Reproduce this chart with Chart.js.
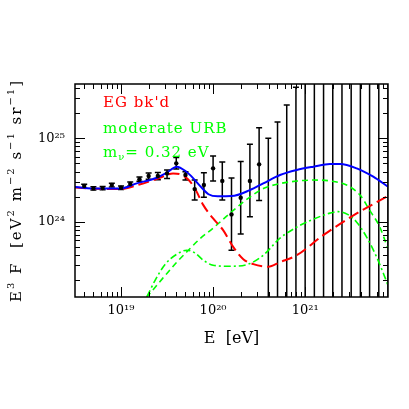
<!DOCTYPE html>
<html><head><meta charset="utf-8">
<script src="https://cdn.jsdelivr.net/npm/chart.js@4"></script>
<style>html,body{margin:0;padding:0;background:#fff}</style>
</head><body>
<canvas id="c" width="409" height="409"></canvas>
<script>
// ---- axis / tick labels ----
const xTickExps = [19, 20, 21];
const xTickLabels = ['10¹⁹', '10²⁰', '10²¹'];
const yTickExps = [24, 25];
const yTickLabels = ['10²⁴', '10²⁵'];
const xRangeLog = [18.5, 21.9];
const yRangeLog = [23.1, 25.65];
const xTitle = 'E  [eV]';
const yTitleParts = [['E', 0], ['3', 1], [' F  [eV', 0], ['2', 1], [' m', 0], ['−2', 1], [' s', 0], ['−1', 1], [' sr', 0], ['−1', 1], [']', 0]];

// ---- measured data (log10 E, log10 E^3 F, error bar ends) ----
const dataLogE  = [18.6, 18.7, 18.8, 18.9, 19.0, 19.1, 19.2, 19.3, 19.4, 19.5, 19.6, 19.7, 19.8, 19.9, 20.0, 20.1, 20.2, 20.3, 20.4, 20.5, 20.6, 20.7, 20.8, 20.9, 21.0, 21.1, 21.2, 21.3, 21.4, 21.5, 21.6, 21.7, 21.8, 21.9];
const dataLogF  = [24.428, 24.400, 24.404, 24.440, 24.408, 24.452, 24.510, 24.548, 24.548, 24.580, 24.700, 24.560, 24.392, 24.440, 24.640, 24.490, 24.089, 24.288, 24.488, 24.688, null, null, null, null, null, null, null, null, null, null, null, null, null, null];
const dataLogHi = [24.450, 24.420, 24.424, 24.462, 24.428, 24.476, 24.536, 24.585, 24.590, 24.620, 24.770, 24.600, 24.500, 24.588, 24.788, 24.716, 24.524, 24.722, 24.928, 25.127, 25.000, 25.195, 25.400, 25.610, 26.0, 26.0, 26.0, 26.0, 26.0, 26.0, 26.0, 26.0, 26.0, 26.0];
const dataLogLo = [24.405, 24.380, 24.384, 24.418, 24.388, 24.428, 24.485, 24.510, 24.505, 24.520, 24.632, 24.500, 24.260, 24.293, 24.488, 24.260, 23.660, 23.853, 24.060, 24.254, 22.0, 22.0, 22.0, 22.0, 22.0, 22.0, 22.0, 22.0, 22.0, 22.0, 22.0, 22.0, 22.0, 22.0];

// ---- model curves ----
const totalLogE = [18.5, 18.75, 19.0, 19.17, 19.39, 19.5, 19.605, 19.71, 19.76, 19.86, 19.95, 20.05, 20.2, 20.4, 20.545, 20.727, 20.908, 21.09, 21.27, 21.38, 21.56, 21.74, 21.9];
const totalLogF = [24.416, 24.398, 24.400, 24.460, 24.528, 24.590, 24.660, 24.600, 24.550, 24.428, 24.330, 24.305, 24.308, 24.380, 24.460, 24.560, 24.620, 24.660, 24.692, 24.692, 24.640, 24.540, 24.420];

const egLogE = [18.5, 18.75, 19.0, 19.2, 19.4, 19.565, 19.65, 19.727, 19.8, 19.894, 20.0, 20.109, 20.22, 20.328, 20.437, 20.6, 20.727, 20.908, 21.197, 21.56, 21.9];
const egLogF = [24.410, 24.395, 24.392, 24.446, 24.518, 24.578, 24.566, 24.510, 24.404, 24.200, 24.040, 23.900, 23.697, 23.553, 23.493, 23.463, 23.517, 23.600, 23.840, 24.100, 24.310];

const zbLogE = [19.2, 19.279, 19.45, 19.6, 19.75, 19.86, 20.0, 20.184, 20.4, 20.545, 20.727, 20.908, 21.09, 21.27, 21.45, 21.596, 21.70, 21.81, 21.886, 21.9];
const zbLogF = [23.01, 23.10, 23.32, 23.51, 23.68, 23.80, 23.924, 24.104, 24.296, 24.398, 24.458, 24.488, 24.500, 24.490, 24.440, 24.320, 24.140, 23.940, 23.720, 23.680];

const zb2LogE = [19.2, 19.279, 19.37, 19.478, 19.605, 19.713, 19.80, 19.894, 20.0, 20.184, 20.4, 20.545, 20.727, 20.908, 21.09, 21.27, 21.357, 21.466, 21.56, 21.668, 21.777, 21.849, 21.9];
const zb2LogF = [22.95, 23.10, 23.30, 23.49, 23.612, 23.660, 23.630, 23.540, 23.480, 23.468, 23.500, 23.600, 23.804, 23.936, 24.032, 24.104, 24.122, 24.086, 23.996, 23.817, 23.577, 23.385, 23.240];

const pts = (le, lf) => le.map((e, i) => ({x: Math.pow(10, e), y: lf[i] === null ? null : Math.pow(10, lf[i])}));

const SERIF = '"DejaVu Serif", "Liberation Serif", serif';

const framePlugin = {
  id: 'frame',
  beforeDatasetsDraw(chart) {
    const {ctx, chartArea: a, scales: {x, y}} = chart;
    ctx.save();
    ctx.beginPath(); ctx.rect(a.left, a.top, a.right - a.left, a.bottom - a.top); ctx.clip();
    ctx.strokeStyle = '#000'; ctx.lineWidth = 1.5;
    dataLogE.forEach((e, i) => {
      const px = x.getPixelForValue(Math.pow(10, e));
      const hi = y.getPixelForValue(Math.pow(10, dataLogHi[i]));
      const lo = y.getPixelForValue(Math.pow(10, dataLogLo[i]));
      ctx.beginPath();
      ctx.moveTo(px, hi); ctx.lineTo(px, lo);
      ctx.moveTo(px - 3, hi); ctx.lineTo(px + 3, hi);
      ctx.moveTo(px - 3, lo); ctx.lineTo(px + 3, lo);
      ctx.stroke();
    });
    ctx.restore();
  },
  afterDraw(chart) {
    const {ctx, chartArea: a, scales: {x, y}} = chart;
    ctx.save();
    ctx.strokeStyle = '#000';
    ctx.lineWidth = 1;
    for (let d = 18; d <= 21; d++) {
      for (let m = 1; m <= 9; m++) {
        const v = m * Math.pow(10, d);
        if (v < Math.pow(10, xRangeLog[0]) || v > Math.pow(10, xRangeLog[1])) continue;
        const px = Math.round(x.getPixelForValue(v)) + 0.5;
        const len = m === 1 ? 10 : 5;
        ctx.beginPath();
        ctx.moveTo(px, a.bottom); ctx.lineTo(px, a.bottom - len);
        ctx.moveTo(px, a.top); ctx.lineTo(px, a.top + len);
        ctx.stroke();
      }
    }
    for (let d = 23; d <= 25; d++) {
      for (let m = 1; m <= 9; m++) {
        const v = m * Math.pow(10, d);
        if (v < Math.pow(10, yRangeLog[0]) || v > Math.pow(10, yRangeLog[1])) continue;
        const py = Math.round(y.getPixelForValue(v)) + 0.5;
        const len = m === 1 ? 10 : 5;
        ctx.beginPath();
        ctx.moveTo(a.left, py); ctx.lineTo(a.left + len, py);
        ctx.moveTo(a.right, py); ctx.lineTo(a.right - len, py);
        ctx.stroke();
      }
    }
    ctx.lineWidth = 1.5;
    ctx.strokeRect(a.left, a.top, a.right - a.left, a.bottom - a.top);

    // y-axis title (rotated, with superscripts)
    ctx.save();
    ctx.letterSpacing = '2px';
    ctx.fillStyle = '#000';
    ctx.textBaseline = 'alphabetic';
    ctx.textAlign = 'left';
    const fontFor = s => (s ? '10px ' : '15px ') + SERIF;
    let W = 0;
    yTitleParts.forEach(([t, s]) => { ctx.font = fontFor(s); W += ctx.measureText(t).width; });
    ctx.translate(21, (a.top + a.bottom) / 2);
    ctx.rotate(-Math.PI / 2);
    let cx = -W / 2;
    yTitleParts.forEach(([t, s]) => {
      ctx.font = fontFor(s);
      ctx.fillText(t, cx, s ? -7 : 0);
      cx += ctx.measureText(t).width;
    });
    ctx.restore();

    // x-axis title
    ctx.save();
    ctx.fillStyle = '#000';
    ctx.font = '16px ' + SERIF;
    ctx.textAlign = 'center';
    ctx.textBaseline = 'middle';
    ctx.fillText(xTitle, (a.left + a.right) / 2, 339);
    ctx.restore();

    // annotations
    ctx.letterSpacing = '1px';
    ctx.textBaseline = 'alphabetic';
    ctx.textAlign = 'left';
    ctx.font = '15px ' + SERIF;
    ctx.fillStyle = '#ff0000';
    ctx.fillText("EG bk'd", 103, 107);
    ctx.fillStyle = '#00ff00';
    ctx.fillText('moderate URB', 103, 133);
    let tx = 103;
    ctx.fillText('m', tx, 157); tx += ctx.measureText('m').width;
    ctx.font = '10px ' + SERIF;
    ctx.fillText('ν', tx, 160); tx += ctx.measureText('ν').width;
    ctx.font = '15px ' + SERIF;
    ctx.fillText('= 0.32 eV', tx, 157);
    ctx.restore();
  }
};

new Chart(document.getElementById('c'), {
  type: 'line',
  data: {
    datasets: [
      {label: 'data', type: 'scatter', data: pts(dataLogE, dataLogF).filter(p => p.y !== null),
       pointRadius: 2.2, pointBackgroundColor: '#000', pointBorderWidth: 0, showLine: false, clip: 0},
      {label: 'total', data: pts(totalLogE, totalLogF), borderColor: '#0000ff', borderWidth: 2,
       pointRadius: 0, cubicInterpolationMode: 'monotone', fill: false, clip: 0},
      {label: "EG bk'd", data: pts(egLogE, egLogF), borderColor: '#ff0000', borderWidth: 2, borderDash: [11, 5],
       pointRadius: 0, cubicInterpolationMode: 'monotone', fill: false, clip: 0},
      {label: 'Z-burst', data: pts(zbLogE, zbLogF), borderColor: '#00ff00', borderWidth: 1.6, borderDash: [6, 4],
       pointRadius: 0, cubicInterpolationMode: 'monotone', fill: false, clip: 0},
      {label: 'Z-burst 2', data: pts(zb2LogE, zb2LogF), borderColor: '#00ff00', borderWidth: 1.6, borderDash: [7, 3, 2, 3],
       pointRadius: 0, cubicInterpolationMode: 'monotone', fill: false, clip: 0}
    ]
  },
  options: {
    responsive: false, animation: false, devicePixelRatio: 1,
    layout: {padding: {left: 0, right: 21, top: 84, bottom: 0}},
    plugins: {legend: {display: false}, tooltip: {enabled: false}},
    scales: {
      x: {
        type: 'logarithmic', bounds: 'data',
        min: Math.pow(10, xRangeLog[0]), max: Math.pow(10, xRangeLog[1]),
        grid: {display: false, drawTicks: false}, border: {display: false},
        afterBuildTicks: s => { s.ticks = xTickExps.map(e => ({value: Math.pow(10, e)})); },
        afterFit: s => { s.height = 112; },
        ticks: {
          autoSkip: false, maxRotation: 0, padding: 6, color: '#000',
          font: {family: SERIF, size: 13},
          callback: v => { const i = xTickExps.indexOf(Math.round(Math.log10(v))); return i >= 0 ? xTickLabels[i] : ''; }
        }
      },
      y: {
        type: 'logarithmic', bounds: 'data',
        min: Math.pow(10, yRangeLog[0]), max: Math.pow(10, yRangeLog[1]),
        grid: {display: false, drawTicks: false}, border: {display: false},
        afterBuildTicks: s => { s.ticks = yTickExps.map(e => ({value: Math.pow(10, e)})); },
        afterFit: s => { s.width = 75; },
        ticks: {
          autoSkip: false, padding: 10, color: '#000',
          font: {family: SERIF, size: 13},
          callback: v => { const i = yTickExps.indexOf(Math.round(Math.log10(v))); return i >= 0 ? yTickLabels[i] : ''; }
        }
      }
    }
  },
  plugins: [framePlugin]
});
</script>
</body></html>
